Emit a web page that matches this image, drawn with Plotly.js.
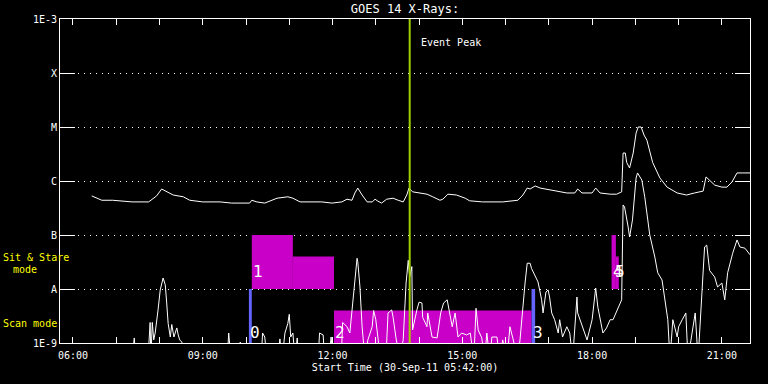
<!DOCTYPE html>
<html>
<head>
<meta charset="utf-8">
<script src="https://cdn.plot.ly/plotly-3.0.1.min.js"></script>
<style>html,body{margin:0;padding:0;background:#000;}#chart{width:768px;height:384px;}</style>
</head>
<body>
<div id="chart"></div>
<script>
// ---------- data ----------
const day = "2011-09-30 ";
// long channel (1-8 A) flux, W/m^2
const longTimes = ["06:26","06:33","06:40","06:55","07:05","07:22","07:45","07:50","07:56","08:03","08:10","08:19","08:33","08:42","09:00","09:24","09:40","10:05","10:08","10:15","10:26","10:36","10:43","10:58","11:05","11:15","11:45","11:59","12:13","12:20","12:27","12:31","12:35","12:41","12:48","12:55","12:59","13:02","13:08","13:15","13:24","13:31","13:38","13:43","13:46","13:51","14:01","14:11","14:19","14:29","14:33","14:40","14:52","15:04","15:10","15:28","15:56","16:17","16:24","16:30","16:34","16:41","16:48","17:04","17:12","17:25","17:36","17:40","17:46","18:00","18:05","18:11","18:25","18:34","18:41","18:43","18:46","18:48","18:52","18:57","19:01","19:04","19:08","19:12","19:16","19:24","19:34","19:44","19:58","20:11","20:22","20:34","20:38","20:41","20:50","21:00","21:07","21:14","21:21","21:29","21:39"];
const longFlux = [5.3e-7,4.8e-7,4.4e-7,4.4e-7,4.3e-7,4.1e-7,4.1e-7,4.6e-7,5.3e-7,7.1e-7,6.3e-7,5.5e-7,5.1e-7,4.4e-7,4.1e-7,4.1e-7,3.9e-7,3.9e-7,4.4e-7,4.1e-7,3.9e-7,4.4e-7,4.8e-7,5.1e-7,4.8e-7,4.1e-7,4.1e-7,3.9e-7,4.1e-7,4.6e-7,4.4e-7,6.0e-7,7.4e-7,5.5e-7,4.1e-7,4.1e-7,4.6e-7,4.3e-7,3.9e-7,4.6e-7,4.8e-7,4.4e-7,4.1e-7,5.5e-7,7.4e-7,6.3e-7,6.0e-7,5.7e-7,5.1e-7,4.4e-7,4.6e-7,5.7e-7,5.5e-7,4.8e-7,4.3e-7,4.1e-7,4.1e-7,4.4e-7,5.5e-7,7.4e-7,7.1e-7,8.1e-7,7.4e-7,6.8e-7,6.5e-7,6.0e-7,6.0e-7,7.1e-7,6.0e-7,6.0e-7,7.4e-7,6.0e-7,5.7e-7,5.7e-7,6.3e-7,3.3e-6,3.3e-6,2.2e-6,1.74e-6,3.3e-6,7.7e-6,1.0e-5,1.0e-5,7.1e-6,5.7e-6,2.2e-6,1.14e-6,7.7e-7,6.0e-7,5.5e-7,6.0e-7,6.5e-7,1.19e-6,1.09e-6,8.4e-7,7.7e-7,7.7e-7,9.6e-7,1.41e-6,1.41e-6,1.41e-6];
// short channel (0.5-4 A) flux, W/m^2 (values under 1E-9 fall below the plot)
const shortTimes = ["05:42","07:22","07:25","07:27","07:44","07:47","07:48","07:50","07:52","07:54","07:58","08:01","08:05","08:08","08:10","08:12","08:15","08:17","08:20","08:24","08:26","08:28","08:31","08:34","09:34","09:36","09:39","09:49","09:52","09:54","10:21","10:23","10:26","10:29","10:44","10:47","10:50","10:54","10:58","11:00","11:02","11:05","11:08","11:11","11:13","11:40","11:42","11:47","11:49","11:55","11:58","12:01","12:12","12:14","12:20","12:24","12:28","12:34","12:35","12:38","12:41","12:45","12:49","12:55","12:57","13:00","13:03","13:06","13:14","13:17","13:22","13:24","13:28","13:33","13:38","13:42","13:45","13:47","13:50","13:51","13:57","14:00","14:04","14:05","14:11","14:12","14:18","14:25","14:30","14:34","14:39","14:41","14:46","14:50","14:54","14:59","15:06","15:11","15:16","15:19","15:22","15:27","15:31","15:34","15:38","15:41","15:48","15:52","15:56","16:02","16:06","16:10","16:17","16:20","16:24","16:27","16:30","16:34","16:36","16:41","16:45","16:50","16:52","16:56","16:59","17:01","17:04","17:08","17:13","17:15","17:19","17:25","17:29","17:33","17:39","17:40","17:47","17:53","18:00","18:05","18:08","18:11","18:15","18:20","18:25","18:29","18:33","18:37","18:41","18:43","18:45","18:50","18:52","18:56","19:01","19:03","19:09","19:13","19:17","19:20","19:27","19:31","19:37","19:41","19:45","19:48","19:52","19:58","20:00","20:05","20:10","20:13","20:23","20:27","20:32","20:36","20:39","20:43","20:50","20:54","21:00","21:04","21:08","21:15","21:21","21:25","21:32","21:39"];
const shortFlux = [5e-10,5e-10,1.24e-9,5e-10,5e-10,2.4e-9,5e-10,2.4e-9,1.14e-9,1.53e-9,4.1e-9,9.6e-9,1.6e-8,1.19e-8,5.5e-9,2.3e-9,1.29e-9,2.2e-9,1.29e-9,1.9e-9,1.41e-9,1.14e-9,1.04e-9,5e-10,5e-10,1.53e-9,5e-10,5e-10,1.04e-9,5e-10,5e-10,1.53e-9,1.29e-9,5e-10,5e-10,1.19e-9,5e-10,1.53e-9,2.3e-9,3.4e-9,1.29e-9,1.53e-9,5e-10,1.24e-9,5e-10,5e-10,1.53e-9,1.41e-9,5e-10,5e-10,1.29e-9,5e-10,5e-10,2.4e-9,2.0e-9,1.53e-9,5.5e-9,3.7e-8,3.2e-8,1.09e-8,2.0e-9,5e-10,1.14e-9,2.0e-9,4.0e-9,2.7e-9,1.24e-9,5e-10,5e-10,3.6e-9,4.1e-9,3.0e-9,1.24e-9,5e-10,1.14e-9,1.29e-8,3.4e-8,1.67e-8,2.6e-8,1.74e-9,4.1e-9,5.7e-9,5.5e-9,3.0e-9,2.0e-9,3.6e-9,1.29e-9,1.24e-9,3.6e-9,5.5e-9,6.3e-9,4.6e-9,2.0e-9,3.6e-9,1.29e-9,1.53e-9,1.41e-9,1.53e-9,5e-10,4.4e-9,1.74e-9,1.24e-9,5e-10,1.53e-9,5e-10,1.29e-9,1.29e-9,5e-10,1.14e-9,5e-10,2.0e-9,1.24e-9,5e-10,1.14e-9,5.1e-9,1.29e-8,3.0e-8,3.0e-8,2.4e-8,1.8e-8,1.35e-8,6.3e-9,3.6e-9,8.8e-9,9.6e-9,7.1e-9,3.6e-9,2.7e-9,1.53e-9,2.7e-9,1.29e-9,2.0e-9,1.53e-9,5e-10,7.1e-9,3.6e-9,2.0e-9,1.14e-9,2.7e-9,1.04e-8,4.6e-9,2.7e-9,1.53e-9,1.9e-9,2.7e-9,2.7e-9,3.6e-9,4.6e-9,6.3e-9,3.6e-7,3.3e-7,1.41e-7,9.2e-8,1.9e-7,1.14e-6,1.41e-6,1.04e-6,5.1e-7,1.9e-7,1.0e-7,3.9e-8,2.0e-8,1.47e-8,5.7e-9,2.7e-9,5e-10,2.7e-9,1.29e-9,2.0e-9,2.7e-9,3.6e-9,5e-10,3.6e-9,5e-10,8.4e-9,6.0e-8,6.5e-8,2.2e-8,1.67e-8,1.09e-8,1.29e-8,6.3e-9,2.0e-8,4.6e-8,8.1e-8,6.0e-8,5.7e-8,4.3e-8];

// observing-mode blocks
const sitStart = ["10:08","11:05","18:27","18:33"];
const sitEnd   = ["11:05","12:02","18:33","18:37"];
const sitTop   = [1e-7, 4e-8, 1e-7, 4e-8];
const sitBottom = 1e-8;
const scanStart = ["12:02"];
const scanEnd   = ["16:36"];
const scanTop   = [4e-9];
const scanBottom = 1e-9;
const markStart = ["10:04","16:36"];
const markEnd   = ["10:08","16:41"];
const markTop   = [1e-8, 1e-8];
const modeLabels = ["0","1","2","3","4","5"];
const modeLabelTimes = ["10:04","10:08","12:02","16:36","18:27","18:30"];
const modeLabelKind = ["scan","sit","scan","scan","sit","sit"];

const eventTime = "13:47";
const yTickVals = [1e-9,1e-8,1e-7,1e-6,1e-5,1e-4,1e-3];
const yTickText = ["1E-9","A","B","C","M","X","1E-3"];

// ---------- chart ----------
const T = s => day + s;
const MAG = "#c800c8", BLUE = "#6464ff", GREEN = "#a0d000";
const FONT = "DejaVu Sans Mono";
const traces = [];

function box(s, e, bot, top, color) {
  traces.push({x:[T(s),T(s),T(e),T(e),T(s)], y:[bot,top,top,bot,bot], mode:"lines",
    fill:"toself", fillcolor:color, line:{width:0, color:color}, hoverinfo:"skip", showlegend:false});
}
sitStart.forEach((s,i)=>box(s, sitEnd[i], sitBottom, sitTop[i], MAG));
scanStart.forEach((s,i)=>box(s, scanEnd[i], scanBottom, scanTop[i], MAG));
markStart.forEach((s,i)=>box(s, markEnd[i], scanBottom, markTop[i], BLUE));

traces.push({x:shortTimes.map(T), y:shortFlux, mode:"lines", line:{color:"#fff", width:1}, showlegend:false});
traces.push({x:longTimes.map(T), y:longFlux, mode:"lines", line:{color:"#fff", width:1}, showlegend:false});
traces.push({x:[T(eventTime),T(eventTime)], y:[1e-9,1e-3], mode:"lines", line:{color:GREEN, width:2}, showlegend:false});

const annotations = [];
modeLabels.forEach((lab,i)=>{
  annotations.push({x:T(modeLabelTimes[i]), xref:"x", y: modeLabelKind[i]==="sit" ? -7.68 : -8.80, yref:"y",
    text:lab, showarrow:false, xanchor:"left", yanchor:"middle", xshift:-1,
    font:{family:FONT, size:16, color:"#fff"}});
});
annotations.push({x:T(eventTime), xref:"x", y:0.926, yref:"paper", text:"Event Peak", showarrow:false,
  xanchor:"left", yanchor:"middle", xshift:9, font:{family:FONT, size:10, color:"#fff"}});
annotations.push({x:0, xref:"paper", xshift:-59, y:0.263, yref:"paper", text:"Sit & Stare", showarrow:false,
  xanchor:"left", yanchor:"middle", font:{family:FONT, size:10, color:"#ffff00"}});
annotations.push({x:0, xref:"paper", xshift:-49, y:0.226, yref:"paper", text:"mode", showarrow:false,
  xanchor:"left", yanchor:"middle", font:{family:FONT, size:10, color:"#ffff00"}});
annotations.push({x:0, xref:"paper", xshift:-59, y:0.059, yref:"paper", text:"Scan mode", showarrow:false,
  xanchor:"left", yanchor:"middle", font:{family:FONT, size:10, color:"#ffff00"}});

const layout = {
  width:768, height:384,
  margin:{l:60, r:18, t:19, b:41, pad:0},
  paper_bgcolor:"#000", plot_bgcolor:"#000",
  font:{family:FONT, size:10, color:"#fff"},
  title:{text:"GOES 14 X-Rays:", font:{family:FONT, size:12, color:"#fff"}, x:0.5, xref:"paper", xanchor:"center", y:0.977, yref:"container", yanchor:"middle"},
  showlegend:false,
  xaxis:{type:"date", range:[T("05:42"), T("21:39")], showline:true, linecolor:"#fff", linewidth:1, mirror:"ticks",
    ticks:"inside", ticklen:6, tickcolor:"#fff", tickwidth:1, dtick:10800000, tick0:T("00:00"), tickformat:"%H:%M",
    tickfont:{family:FONT, size:10, color:"#fff"}, showgrid:false, zeroline:false, ticklabelstandoff:3,
    minor:{dtick:3600000, ticks:"inside", ticklen:6, tickcolor:"#fff", tickwidth:1, showgrid:false},
    title:{text:"Start Time (30-Sep-11 05:42:00)", font:{family:FONT, size:10, color:"#fff"}, standoff:3}},
  yaxis:{type:"log", range:[-9,-3], showline:true, linecolor:"#fff", linewidth:1, mirror:"ticks",
    ticks:"inside", ticklen:15, tickcolor:"#fff", tickwidth:1, tickvals:yTickVals, ticktext:yTickText,
    tickfont:{family:FONT, size:10, color:"#fff"}, showgrid:true, gridcolor:"#fff", gridwidth:1, griddash:"1px,5px", zeroline:false},
  annotations:annotations
};
Plotly.newPlot("chart", traces, layout, {staticPlot:true, displayModeBar:false});
</script>
</body>
</html>
